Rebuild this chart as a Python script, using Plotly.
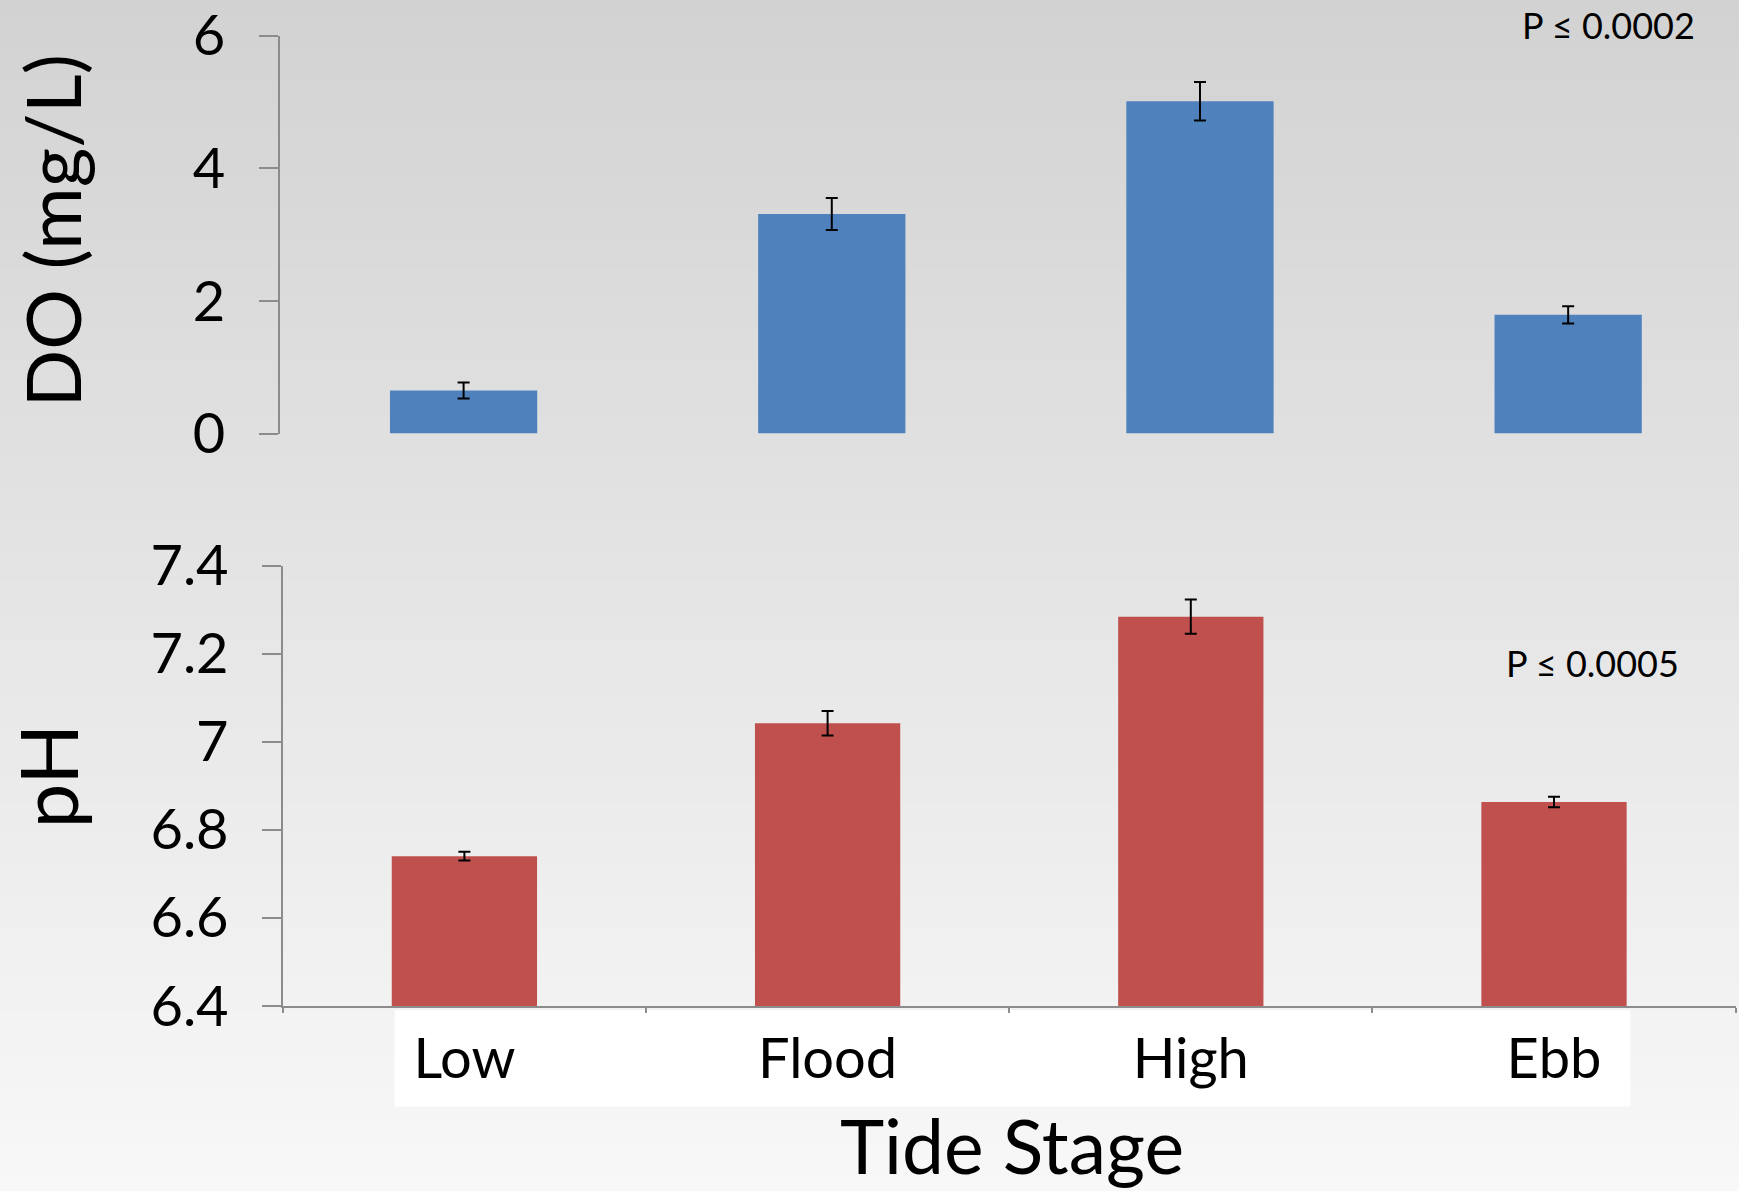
import plotly.graph_objects as go

# ---------------- data ----------------
categories = ["Low", "Flood", "High", "Ebb"]
do_values = [0.65, 3.31, 5.01, 1.79]
do_errors = [0.12, 0.24, 0.29, 0.13]
ph_values = [6.74, 7.042, 7.284, 6.863]
ph_errors = [0.010, 0.028, 0.039, 0.012]
do_tickvals = [0, 2, 4, 6]
do_ticktext = ["0", "2", "4", "6"]
ph_tickvals = [6.4, 6.6, 6.8, 7.0, 7.2, 7.4]
ph_ticktext = ["6.4", "6.6", "6.8", "7", "7.2", "7.4"]
do_label = "DO (mg/L)"
ph_label = "pH"
x_label = "Tide Stage"
do_pvalue = "P ≤ 0.0002"
ph_pvalue = "P ≤ 0.0005"

# ---------------- style ----------------
W, H = 1739, 1191
FONT = "Lato"
GRAY = "#8c8c8c"
BLUE = "#4F81BD"
RED = "#C0504D"


def px(xp):
    return xp / W


def py(yp):
    return 1 - yp / H


fig = go.Figure()
fig.add_trace(go.Bar(
    x=categories, y=do_values, xaxis="x", yaxis="y", showlegend=False,
    marker=dict(color=BLUE, line=dict(width=0)),
    error_y=dict(type="data", array=do_errors, color="black", thickness=2, width=6),
))
fig.add_trace(go.Bar(
    x=categories, y=ph_values, xaxis="x2", yaxis="y2", showlegend=False,
    marker=dict(color=RED, line=dict(width=0)),
    error_y=dict(type="data", array=ph_errors, color="black", thickness=2, width=6),
))

# background gradient (style only)
shapes = []
n_bands = 80
top_c, bot_c = 210, 248
for i in range(n_bands):
    t = (i + 0.5) / n_bands
    c = round(top_c + (bot_c - top_c) * t)
    shapes.append(dict(
        type="rect", xref="paper", yref="paper", layer="below",
        x0=0, x1=1, y0=1 - (i + 1) / n_bands - 0.001, y1=1 - i / n_bands,
        fillcolor=f"rgb({c},{c},{c})", line=dict(width=0),
    ))
# white box behind category labels
shapes.append(dict(
    type="rect", xref="paper", yref="paper", layer="below",
    x0=px(394.5), x1=px(1630.5), y0=py(1106.5), y1=py(1010),
    fillcolor="white", line=dict(width=0),
))

tickfont = dict(family=FONT, size=56, color="black")

fig.update_layout(
    width=W, height=H, autosize=False,
    margin=dict(l=0, r=0, t=0, b=0, pad=0, autoexpand=False),
    paper_bgcolor="#e4e4e4",
    plot_bgcolor="rgba(0,0,0,0)",
    bargap=0.6,
    font=dict(family=FONT, color="black"),
    shapes=shapes,
    xaxis=dict(
        domain=[px(279.5), 1.0], range=[-0.5, 3.464], anchor="y", automargin=False,
        visible=False, type="category", categoryorder="array", categoryarray=categories,
    ),
    yaxis=dict(
        domain=[py(433.6), py(35.5)], range=[0, 6], anchor="x", automargin=False,
        tickmode="array", tickvals=do_tickvals, ticktext=do_ticktext,
        ticks="outside", ticklen=19, tickwidth=2, tickcolor=GRAY,
        showline=True, linewidth=2, linecolor=GRAY,
        showgrid=False, zeroline=False, tickfont=tickfont, ticklabelstandoff=22,
    ),
    xaxis2=dict(
        domain=[px(282.8), px(1735.6)], range=[-0.5, 3.5], anchor="y2", automargin=False,
        type="category", categoryorder="array", categoryarray=categories,
        showline=True, linewidth=2, linecolor=GRAY,
        ticks="outside", tickson="boundaries", ticklen=5, tickwidth=2, tickcolor=GRAY,
        showgrid=False, zeroline=False, tickfont=tickfont, ticklabelstandoff=3,
    ),
    yaxis2=dict(
        domain=[py(1005.9), py(565.6)], range=[6.4, 7.4], anchor="x2", automargin=False,
        tickmode="array", tickvals=ph_tickvals, ticktext=ph_ticktext,
        ticks="outside", ticklen=19, tickwidth=2, tickcolor=GRAY,
        showline=True, linewidth=2, linecolor=GRAY,
        showgrid=False, zeroline=False, tickfont=tickfont, ticklabelstandoff=22,
    ),
    annotations=[
        dict(text=do_label, x=px(51), y=py(231.5), xref="paper", yref="paper",
             textangle=-90, showarrow=False, xanchor="center", yanchor="middle",
             font=dict(family=FONT, size=76, color="black")),
        dict(text=ph_label, x=px(46), y=py(776.5), xref="paper", yref="paper",
             textangle=-90, showarrow=False, xanchor="center", yanchor="middle",
             font=dict(family=FONT, size=80, color="black")),
        dict(text=x_label, x=px(1012), y=py(1145), xref="paper", yref="paper",
             showarrow=False, xanchor="center", yanchor="middle",
             font=dict(family=FONT, size=75, color="black")),
        dict(text=do_pvalue, x=px(1608), y=py(24.7), xref="paper", yref="paper",
             showarrow=False, xanchor="center", yanchor="middle",
             font=dict(family=FONT, size=36, color="black")),
        dict(text=ph_pvalue, x=px(1592), y=py(662.7), xref="paper", yref="paper",
             showarrow=False, xanchor="center", yanchor="middle",
             font=dict(family=FONT, size=36, color="black")),
    ],
)

fig.write_html("out.html", config={"displayModeBar": False},
               post_script="document.body.style.margin='0px';")
